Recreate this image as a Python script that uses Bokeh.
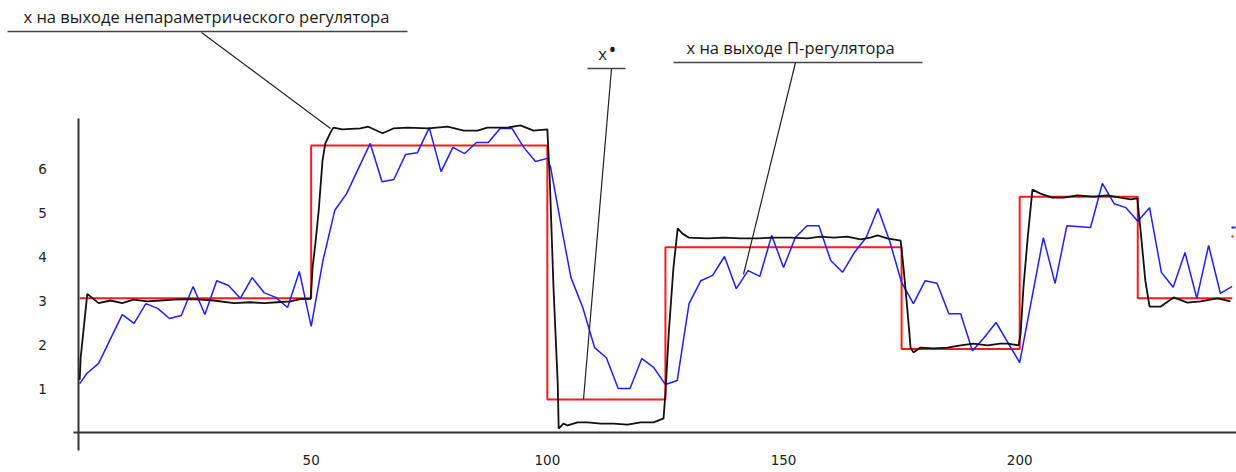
from bokeh.plotting import figure
from bokeh.models import Range1d
from bokeh.core.properties import value
from bokeh.embed import file_html
from bokeh.resources import INLINE

# ---------------- data ----------------
# setpoint x* (red step signal): level starts at each breakpoint
red_x = [1, 50, 100, 125, 175, 200, 225, 245]
red_y = [3.05, 6.52, 0.75, 4.21, 1.90, 5.36, 3.05, 3.05]

# x at the output of the P-controller (blue)
blue_x = [1, 2.5, 5, 10, 12.5, 15, 17.5, 20, 22.5, 25, 27.5, 30, 32.5, 35, 37.5, 40,
          42.5, 45, 47.5, 50, 52.5, 55, 57.5, 62.5, 65, 67.5, 70, 72.5, 75, 77.5, 80,
          82.5, 85, 87.5, 90, 92.5, 95, 97.5, 100, 100.7, 103, 105, 107.5, 110, 112.5,
          115, 117.5, 120, 122.5, 125, 127.5, 130, 132.5, 135, 137.5, 140, 142.5, 145,
          147.5, 150, 152.5, 155, 157.5, 160, 162.5, 165, 167.5, 170, 172.5, 175, 177.5,
          180, 182.5, 185, 187.5, 190, 192.5, 195, 200, 205, 207.5, 210, 215, 217.5, 220,
          222.5, 225, 227.5, 230, 232.5, 235, 237.5, 240, 242.5, 245]
blue_y = [1.11, 1.34, 1.57, 2.68, 2.48, 2.93, 2.82, 2.59, 2.66, 3.32, 2.68, 3.45, 3.34,
          3.05, 3.52, 3.18, 3.07, 2.84, 3.66, 2.41, 3.91, 5.05, 5.43, 6.57, 5.70, 5.75,
          6.32, 6.36, 6.93, 5.93, 6.48, 6.34, 6.59, 6.59, 6.91, 6.91, 6.48, 6.16, 6.23,
          6.02, 4.66, 3.52, 2.84, 1.93, 1.70, 1.00, 1.00, 1.68, 1.48, 1.09, 1.18, 2.93,
          3.45, 3.57, 4.00, 3.27, 3.68, 3.55, 4.48, 3.75, 4.43, 4.70, 4.70, 3.91, 3.64,
          4.09, 4.43, 5.09, 4.34, 3.41, 2.93, 3.45, 3.39, 2.70, 2.70, 1.86, 2.16, 2.50,
          1.59, 4.43, 3.39, 4.70, 4.66, 5.66, 5.20, 5.11, 4.80, 5.11, 3.64, 3.30, 4.09,
          3.05, 4.25, 3.16, 3.32]

# x at the output of the nonparametric controller (black)
black_x = [1, 1.2, 2.6, 5.0, 7.5, 10.0, 12.4, 15.3, 18.1, 20.9, 23.8, 26.6, 29.4, 33.6,
           37.2, 40.0, 42.8, 45.6, 47.7, 49.9, 50.3, 50.9, 51.6, 52.4, 53.0, 54.1, 54.7,
           56.6, 60.4, 62.1, 65.1, 67.4, 70.4, 74.8, 78.9, 82.3, 85.2, 87.3, 91.6, 94.3,
           97.1, 100.0, 100.5, 101.3, 102.2, 102.4, 103.4, 104.3, 106.4, 108.5, 111.3,
           114.0, 117.0, 119.7, 122.5, 124.6, 125.0, 125.7, 126.7, 127.6, 128.6, 129.9,
           133.9, 137.3, 140.9, 144.5, 147.9, 151.5, 155.1, 157.8, 160.6, 163.5, 166.3,
           168.4, 169.9, 172.0, 174.8, 175.4, 176.3, 176.9, 177.5, 179.0, 181.8, 184.7,
           187.5, 190.2, 193.2, 195.9, 197.4, 199.8, 200.2, 200.8, 201.7, 202.7, 204.4,
           206.9, 209.3, 212.2, 215.6, 218.6, 221.3, 223.5, 224.9, 225.6, 226.6, 227.5,
           229.8, 232.6, 235.5, 238.3, 241.9, 244.6]
black_y = [1.2, 1.7, 3.15, 2.94, 3.0, 2.94, 3.02, 2.98, 3.0, 3.02, 3.03, 3.02, 3.0, 2.94,
           2.96, 2.94, 2.96, 2.98, 3.03, 3.04, 3.75, 4.3, 5.05, 6.18, 6.57, 6.82, 6.93,
           6.89, 6.91, 6.95, 6.80, 6.91, 6.93, 6.91, 6.95, 6.86, 6.86, 6.93, 6.93, 6.98,
           6.86, 6.89, 5.80, 3.30, 1.11, 0.09, 0.20, 0.16, 0.23, 0.23, 0.20, 0.20, 0.18,
           0.23, 0.23, 0.32, 0.89, 2.25, 3.75, 4.64, 4.52, 4.43, 4.41, 4.43, 4.41, 4.41,
           4.43, 4.43, 4.41, 4.45, 4.43, 4.45, 4.39, 4.43, 4.48, 4.41, 4.36, 3.75, 2.70,
           1.93, 1.82, 1.93, 1.91, 1.93, 1.98, 2.02, 1.98, 2.02, 2.02, 1.98, 2.25, 3.30,
           4.43, 5.52, 5.43, 5.34, 5.34, 5.39, 5.36, 5.39, 5.34, 5.30, 5.32, 4.59, 3.45,
           2.86, 2.86, 3.07, 2.95, 2.98, 3.05, 2.98]

y_ticks = [1, 2, 3, 4, 5, 6]
y_tick_labels = ["1", "2", "3", "4", "5", "6"]
x_ticks = [50, 100, 150, 200]
x_tick_labels = ["50", "100", "150", "200"]

label_nonparam = "x на выходе непараметрического регулятора"
label_p = "x на выходе П-регулятора"
label_set = "x"
label_set_sup = "\u2022"

# ---------------- layout helpers (pixel -> data) ----------------
W, H = 1236, 472
X0_PX, KX = 74.5, 4.7234
Y0_PX, KY = 432.0, 44.0


def dx(px):
    return (px - X0_PX) / KX


def dy(py):
    return (Y0_PX - py) / KY


p = figure(width=W, height=H, output_backend="svg", toolbar_location=None,
           x_range=Range1d(dx(0), dx(W)), y_range=Range1d(dy(H), dy(0)),
           x_axis_type=None, y_axis_type=None, min_border=0,
           outline_line_color=None, background_fill_color="white",
           border_fill_color="white")
p.grid.visible = False

# axes (crossing lines)
p.segment(x0=[dx(78), dx(73)], y0=[dy(450), 0], x1=[dx(78), dx(W)], y1=[dy(118), 0],
          line_color="#333333", line_width=2)

# series
p.step(red_x, red_y, mode="after", line_color="#ff1a1a", line_width=2)
p.line(blue_x, blue_y, line_color="#1f1fff", line_width=1.5)
p.line(black_x, black_y, line_color="#111111", line_width=1.8)

# tick labels
tick_font = value("DejaVu Sans")
p.text(x=[dx(42)] * len(y_ticks), y=y_ticks, text=y_tick_labels,
       text_font=tick_font, text_font_size="13.5px", text_color="#222222",
       text_align="center", text_baseline="middle")
p.text(x=x_ticks, y=[dy(459)] * len(x_ticks), text=x_tick_labels,
       text_font=tick_font, text_font_size="13.5px", text_color="#222222",
       text_align="center", text_baseline="middle")

# annotations
ann_font = value("Open Sans")
p.text(x=[dx(23)], y=[dy(16)], text=[label_nonparam], text_font=ann_font,
       text_font_size="16.5px", text_color="#1a1a1a", text_align="left",
       text_baseline="middle")
p.text(x=[dx(686)], y=[dy(47)], text=[label_p], text_font=ann_font,
       text_font_size="16.5px", text_color="#1a1a1a", text_align="left",
       text_baseline="middle")
p.text(x=[dx(602)], y=[dy(53)], text=[label_set], text_font=ann_font,
       text_font_size="16.5px", text_color="#1a1a1a", text_align="center",
       text_baseline="middle")
p.text(x=[dx(612)], y=[dy(48)], text=[label_set_sup], text_font=ann_font,
       text_font_size="21px", text_color="#1a1a1a", text_align="center",
       text_baseline="middle")

# underlines
p.segment(x0=[dx(7), dx(587), dx(673)], y0=[dy(31), dy(68), dy(62)],
          x1=[dx(407), dx(625), dx(922)], y1=[dy(31), dy(68), dy(62)],
          line_color="#444444", line_width=1.5)
# leader lines
p.segment(x0=[dx(201), dx(611), dx(795)], y0=[dy(32), dy(68), dy(62)],
          x1=[dx(330), dx(583), dx(743)], y1=[dy(128), dy(399), dy(274)],
          line_color="#222222", line_width=1.2)

# small legend marks cut at the right edge
p.segment(x0=[dx(1231), dx(1231)], y0=[dy(227), dy(236)],
          x1=[dx(1235), dx(1233)], y1=[dy(227), dy(236)],
          line_color=["#1f1fff", "#ff1a1a"], line_width=2)

open("out.html", "w").write(file_html(p, INLINE))
